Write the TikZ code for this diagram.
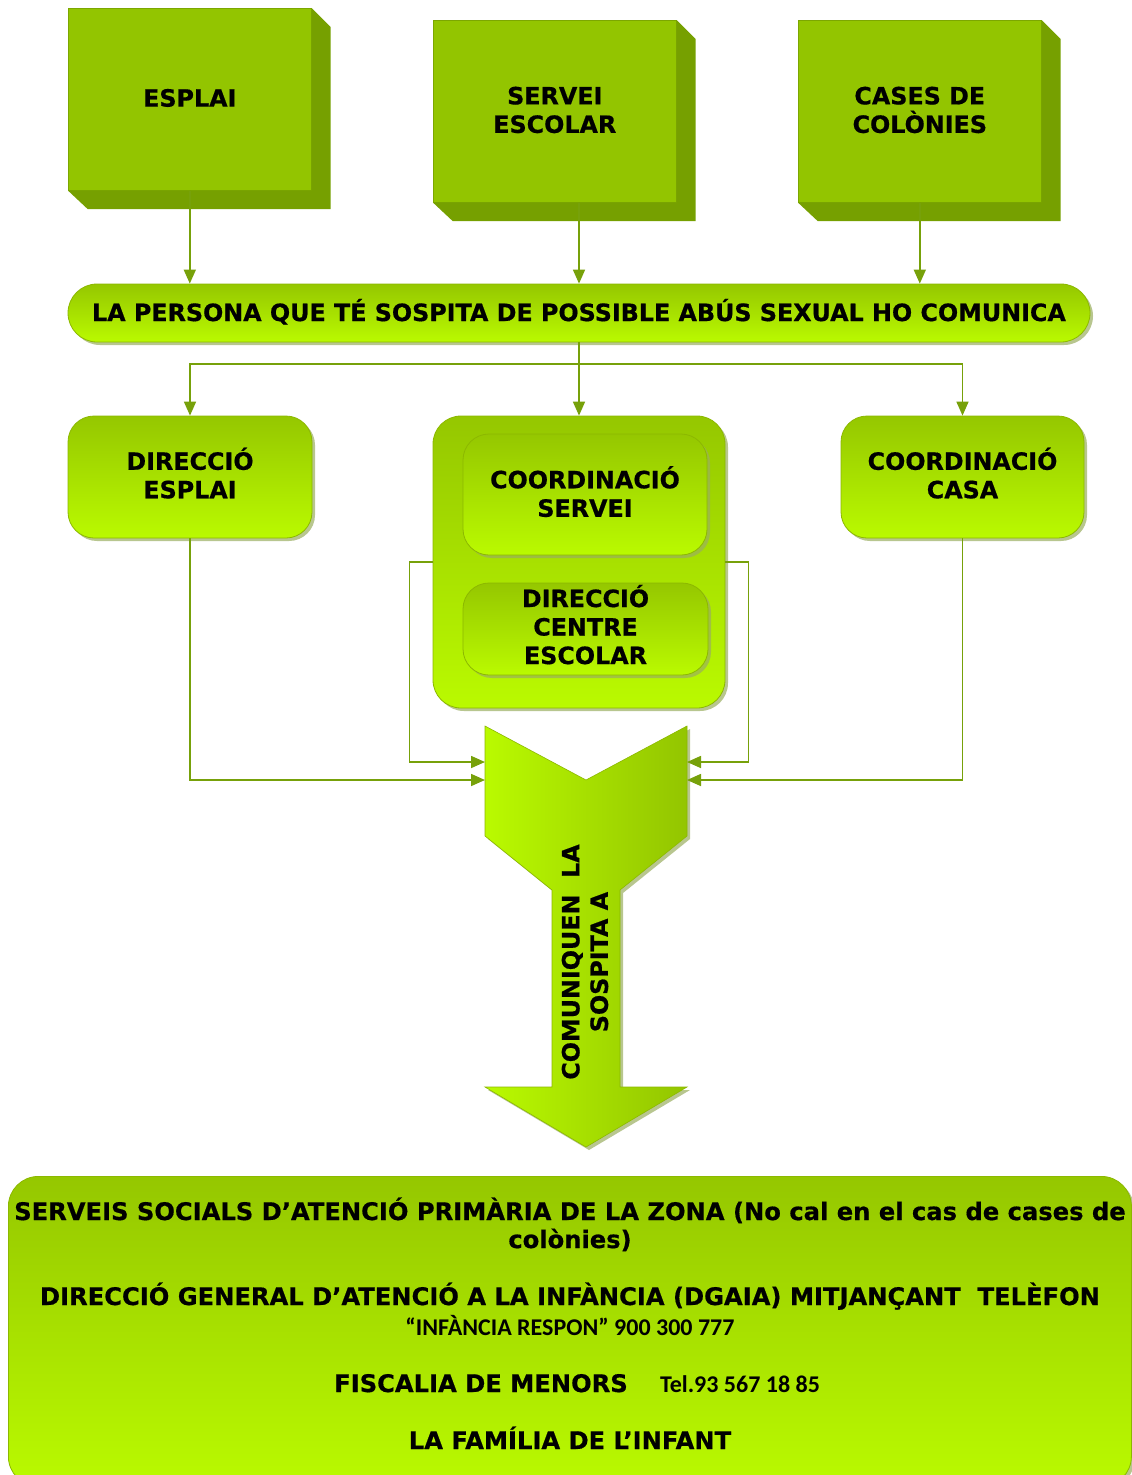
\documentclass[tikz,border=0pt]{standalone}
\usepackage{fontspec}
\setmainfont{DejaVu Sans}[BoldFeatures={FakeBold=0.6}]
\newfontfamily\calib{Carlito}
\usetikzlibrary{arrows.meta,shadows,calc}
\definecolor{frontc}{HTML}{93C500}
\definecolor{sidec}{HTML}{76A000}
\definecolor{linec}{HTML}{77A10A}
\definecolor{gtop}{HTML}{95C700}
\definecolor{gbot}{HTML}{BAFA00}
\definecolor{gborder}{HTML}{8CB800}
\definecolor{shadc}{HTML}{9AAE60}
\tikzset{
  conn/.style={draw=linec, line width=1.6pt},
  arr/.style={conn, -{Triangle[length=14pt,width=12pt]}},
  face/.style={fill=frontc, draw=sidec!80!frontc, line width=0.6pt, minimum width=243pt, minimum height=182pt, inner sep=0pt, anchor=north west, align=center, text depth=3pt},
  rbox/.style={top color=gtop, bottom color=gbot, draw=gborder, line width=0.8pt, inner sep=0pt, align=center, text depth=6pt,
    drop shadow={shadow xshift=3pt, shadow yshift=-3pt, fill=shadc, opacity=.7}},
  btext/.style={anchor=base, inner sep=0pt},
  small/.style={font=\calib\bfseries\fontsize{24}{28}\selectfont},
}
\newcommand{\mainfs}{\bfseries\fontsize{23.8}{28.5}\selectfont}
\begin{document}
\begin{tikzpicture}[x=1pt,y=-1pt,font=\mainfs]
\useasboundingbox[fill=white] (0,0) rectangle (1132,1475);
% top 3D boxes
\node[face] (esplai) at (68,8) {ESPLAI};
\fill[sidec] (esplai.north east) -- ++(19,19) -- ++(0,182) -- ++(-243,0) -- (esplai.south west) -- (esplai.south east) -- cycle;
\node[face] (servei) at (433,20) {SERVEI\\ESCOLAR};
\fill[sidec] (servei.north east) -- ++(19,19) -- ++(0,182) -- ++(-243,0) -- (servei.south west) -- (servei.south east) -- cycle;
\node[face] (cases) at (798,20) {CASES DE\\COLÒNIES};
\fill[sidec] (cases.north east) -- ++(19,19) -- ++(0,182) -- ++(-243,0) -- (cases.south west) -- (cases.south east) -- cycle;
% pill
\node[rbox, rounded corners=29pt, minimum width=1022pt, minimum height=58pt] (pill) at (579,313) {LA PERSONA QUE TÉ SOSPITA DE POSSIBLE ABÚS SEXUAL HO COMUNICA};
\draw[arr] (esplai.south) -- (esplai.south |- pill.north);
\draw[arr] (servei.south -| pill.north) -- (pill.north);
\draw[arr] (cases.south) -- (cases.south |- pill.north);
% middle row
\node[rbox, rounded corners=26pt, minimum width=244pt, minimum height=122pt, text depth=8pt] (desplai) at (190,477) {DIRECCIÓ\\ESPLAI};
\node[rbox, rounded corners=26pt, minimum width=243pt, minimum height=122pt, text depth=8pt] (ccasa) at (962.5,477) {COORDINACIÓ\\CASA};
\node[rbox, rounded corners=28pt, minimum width=292pt, minimum height=292pt] (cont) at (579,562) {};
\node[rbox, rounded corners=26pt, minimum width=244pt, minimum height=121pt] (cserv) at (585,494.5) {COORDINACIÓ\\SERVEI};
\node[rbox, rounded corners=26pt, minimum width=245pt, minimum height=92pt, text depth=9pt] (dcentre) at (585.5,629) {DIRECCIÓ\\CENTRE\\ESCOLAR};
\coordinate (split) at (579,364);
\draw[conn] (pill.south) -- (split);
\draw[arr] (split) -- (cont.north);
\draw[arr] (split) -| (desplai.north);
\draw[arr] (split) -| (ccasa.north);
% big arrow
\coordinate (bal1) at (485,762);
\coordinate (bal2) at (485,780);
\coordinate (bar1) at (687,762);
\coordinate (bar2) at (687,780);
\fill[shadc, opacity=.7] ($(485,726)+(3,3)$) -- ++(101,54) -- ++(101,-54) -- ++(0,110) -- ++(-67,54) -- ++(0,197) -- ++(67,0) -- ++(-101,60) -- ++(-101,-60) -- ++(67,0) -- ++(0,-197) -- ++(-67,-54) -- cycle;
\path[left color=gbot, right color=frontc, draw=gborder, line width=0.6pt] (485,726) -- (586,780) -- (687,726) -- (687,836) -- (620,890) -- (620,1087) -- (687,1087) -- (586,1147) -- (485,1087) -- (552,1087) -- (552,890) -- (485,836) -- cycle;
\node[rotate=90, align=center, inner sep=0pt] (comtext) at (585,962) {COMUNIQUEN\ \ LA\\SOSPITA A};
\draw[arr] (desplai.south) |- (bal2);
\draw[arr] (cont.west) -- ++(-23,0) |- (bal1);
\draw[arr] (cont.east) -- ++(23,0) |- (bar1);
\draw[arr] (ccasa.south) |- (bar2);
% bottom box
\node[rbox, rounded corners=30pt, minimum width=1123pt, minimum height=310pt, anchor=north west] (bottom) at (8,1176) {};
\node[btext, font=\bfseries\fontsize{24.2}{28.5}\selectfont] (l1) at (570,1220) {SERVEIS SOCIALS D’ATENCIÓ PRIMÀRIA DE LA ZONA (No cal en el cas de cases de};
\node[btext, font=\bfseries\fontsize{24.2}{28.5}\selectfont] (l2) at (570,1248) {colònies)};
\node[btext, font=\bfseries\fontsize{24.2}{28.5}\selectfont] (l3) at (570,1305) {DIRECCIÓ GENERAL D’ATENCIÓ A LA INFÀNCIA (DGAIA) MITJANÇANT\ \ TELÈFON};
\node[btext, small] (l4) at (570,1335) {“INFÀNCIA RESPON” 900 300 777};
\node[btext, font=\bfseries\fontsize{24.2}{28.5}\selectfont] (l5) at (481,1392) {FISCALIA DE MENORS};
\node[btext, small] (l5b) at (740,1392) {Tel.93 567 18 85};
\node[btext, font=\bfseries\fontsize{24.2}{28.5}\selectfont] (l6) at (570,1449) {LA FAMÍLIA DE L’INFANT};
\end{tikzpicture}
\end{document}
